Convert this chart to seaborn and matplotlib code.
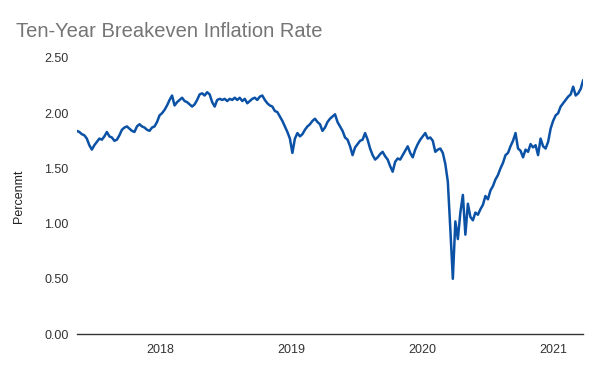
import pandas as pd
import numpy as np
import matplotlib
matplotlib.use('Agg')
import matplotlib.pyplot as plt
import matplotlib.dates as mdates
import seaborn as sns

# weekly readings (Fridays), starting mid May 2017
start_date = "2017-05-12"
rate_2017 = [1.84, 1.83, 1.81, 1.80, 1.77, 1.71, 1.67, 1.71, 1.74, 1.77, 1.76, 1.79, 1.83,
             1.79, 1.78, 1.75, 1.76, 1.80, 1.85, 1.87, 1.88, 1.86, 1.84, 1.83, 1.88,
             1.90, 1.88, 1.87, 1.85, 1.84, 1.87, 1.88, 1.92, 1.98]
rate_2018 = [2.00, 2.03, 2.07, 2.12, 2.16, 2.07, 2.10, 2.12, 2.14, 2.11, 2.10, 2.08,
             2.06, 2.08, 2.12, 2.17, 2.18, 2.16, 2.19, 2.17, 2.10, 2.06, 2.12, 2.13,
             2.12, 2.13, 2.11, 2.13, 2.12, 2.14, 2.12, 2.14, 2.11, 2.13, 2.09, 2.11,
             2.13, 2.14, 2.12, 2.15, 2.16, 2.12, 2.09, 2.07, 2.06, 2.02, 2.01, 1.97,
             1.93, 1.88, 1.83, 1.77]
rate_2019 = [1.64, 1.77, 1.82, 1.79, 1.81, 1.85, 1.88, 1.90, 1.93, 1.95, 1.92, 1.90,
             1.84, 1.87, 1.92, 1.95, 1.97, 1.99, 1.92, 1.88, 1.84, 1.78, 1.76, 1.70,
             1.62, 1.69, 1.72, 1.75, 1.76, 1.82, 1.76, 1.68, 1.62, 1.58, 1.60, 1.63,
             1.65, 1.61, 1.58, 1.52, 1.47, 1.56, 1.59, 1.58, 1.62, 1.66, 1.70, 1.64,
             1.60, 1.67, 1.72, 1.76]
rate_2020 = [1.79, 1.82, 1.77, 1.78, 1.75, 1.65, 1.67, 1.68, 1.64, 1.54, 1.38, 0.95,
             0.50, 1.02, 0.86, 1.10, 1.26, 0.90, 1.18, 1.06, 1.03, 1.10, 1.08, 1.13,
             1.17, 1.25, 1.22, 1.30, 1.34, 1.40, 1.44, 1.50, 1.55, 1.62, 1.64, 1.70,
             1.75, 1.82, 1.68, 1.66, 1.60, 1.67, 1.65, 1.72, 1.69, 1.71, 1.62, 1.77,
             1.70, 1.68, 1.74, 1.86]
rate_2021 = [1.93, 1.98, 2.00, 2.06, 2.09, 2.12, 2.15, 2.17, 2.24, 2.16, 2.18, 2.22,
             2.30]

rate = rate_2017 + rate_2018 + rate_2019 + rate_2020 + rate_2021
df = pd.DataFrame({
    "date": pd.date_range(start_date, periods=len(rate), freq="W-FRI"),
    "rate": rate,
})

sns.set_style("white")
plt.rcParams['font.family'] = ['Liberation Sans', 'DejaVu Sans']

fig = plt.figure(figsize=(6, 3.71), dpi=100)
ax = fig.add_axes([0.128, 0.0997, 0.844, 0.744])

sns.lineplot(x="date", y="rate", data=df, ax=ax, color="#0b52a6", linewidth=1.8)

ax.set_xlim(df["date"].iloc[0], df["date"].iloc[-1])
ax.set_ylim(0, 2.5)
ax.set_yticks([0, 0.5, 1.0, 1.5, 2.0, 2.5])
ax.yaxis.set_major_formatter(matplotlib.ticker.FormatStrFormatter('%.2f'))
ax.xaxis.set_major_locator(mdates.YearLocator())
ax.xaxis.set_major_formatter(mdates.DateFormatter('%Y'))
ax.tick_params(axis='both', length=0, labelsize=9, colors='#333333', pad=7)
ax.tick_params(axis='y', pad=6)

for side in ['top', 'right', 'left']:
    ax.spines[side].set_visible(False)
ax.spines['bottom'].set_color('#333333')
ax.spines['bottom'].set_linewidth(1)

ax.set_xlabel("")
ax.set_ylabel("Percenmt", fontsize=9, color='#222222', labelpad=14)

fig.text(0.027, 0.915, "Ten-Year Breakeven Inflation Rate", fontsize=14.5,
         color='#757575', va='center', ha='left')

fig.savefig("out.png", dpi=100)
